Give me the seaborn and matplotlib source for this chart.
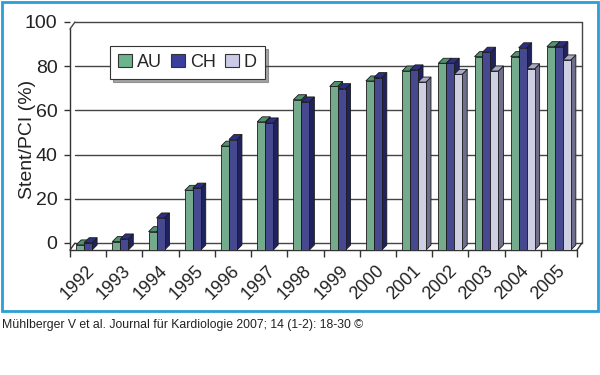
import numpy as np
import pandas as pd
import matplotlib
matplotlib.use("Agg")
import matplotlib.pyplot as plt
import matplotlib.transforms as mtransforms
from matplotlib.patches import Polygon, Rectangle
from matplotlib.lines import Line2D
import seaborn as sns

# ---- data ----
years = [str(y) for y in range(1992, 2006)]
au = [2.3, 3.8, 8.3, 27, 47, 58, 68, 74, 76.5, 81, 84.5, 87.5, 87.5, 92]
ch = [3.3, 5, 14.5, 28, 50, 57.5, 67, 73, 78, 81.5, 84.5, 89.5, 91.5, 92]
de = [np.nan] * 9 + [76, 79.5, 81, 82, 86]
series = ["AU", "CH", "D"]
yticks = [0, 20, 40, 60, 80, 100]
ylabel = "Stent/PCI (%)"
credit = "Mühlberger V et al. Journal für Kardiologie 2007; 14 (1-2): 18-30 ©"

front = {"AU": "#6cb48c", "CH": "#3a3e9c", "D": "#cbcbe8"}
topc = {"AU": "#4f9170", "CH": "#2c2f84", "D": "#a9a9c8"}
sidec = {"AU": "#3b6f55", "CH": "#20225e", "D": "#6f6f8c"}

df = pd.DataFrame({"year": years, "AU": au, "CH": ch, "D": de})
long = df.melt(id_vars="year", var_name="country", value_name="pct")

sns.set_theme(style="white")
plt.rcParams["font.family"] = ["Liberation Sans", "DejaVu Sans"]

fig = plt.figure(figsize=(6, 3.75), dpi=100)
W, H = 600, 375
ax = fig.add_axes([70 / W, 1 - 250 / H, 507 / W, 221 / H])
ax.set_facecolor("none")

sns.barplot(data=long, x="year", y="pct", hue="country", hue_order=series,
            palette=front, width=0.66, edgecolor="#1a1a1a", linewidth=0.6,
            ax=ax, zorder=3, legend=False)

ax.set_xlim(-0.5, len(years) - 0.5)
ax.set_ylim(0, 100)
ax.set_xlabel("")
ax.set_ylabel(ylabel, fontsize=14, color="#222222")
ax.yaxis.set_label_coords(-0.067, 0.5)
ax.set_yticks(yticks)
ax.set_yticklabels([str(v) for v in yticks])
for s in ["top", "right", "bottom"]:
    ax.spines[s].set_visible(False)
ax.spines["left"].set_color("#333333")
ax.spines["left"].set_linewidth(1.0)

ax.tick_params(axis="y", length=4, width=1, color="#333333", pad=5,
               labelsize=14, labelcolor="#222222", left=True)
ax.tick_params(axis="x", which="major", length=0, pad=9, labelsize=13,
               labelcolor="#222222")
ax.set_xticks(np.arange(-0.5, len(years), 1.0), minor=True)
ax.tick_params(axis="x", which="minor", length=5, width=1, color="#333333",
               bottom=True)
for lab in ax.get_xticklabels():
    lab.set_rotation(45)
    lab.set_ha("right")
    lab.set_va("top")
    lab.set_rotation_mode("anchor")

fig.canvas.draw()
dx, dy = 5, 7
wall_off = mtransforms.ScaledTranslation(dx / 100, dy / 100, fig.dpi_scale_trans)
for t in ax.yaxis.get_major_ticks():
    t.label1.set_transform(t.label1.get_transform() + mtransforms.ScaledTranslation(0, dy / 100, fig.dpi_scale_trans))
    t.tick1line.set_transform(t.tick1line.get_transform() + mtransforms.ScaledTranslation(0, dy / 100, fig.dpi_scale_trans))
for lab in ax.get_xticklabels():
    lab.set_transform(lab.get_transform() + mtransforms.ScaledTranslation(-0.02, 0, fig.dpi_scale_trans))

# back wall gridlines & frame
x0, x1 = -0.5, len(years) - 0.5
for v in yticks:
    ax.add_line(Line2D([x0, x1], [v, v], color="#444444", lw=1.0, zorder=1,
                       transform=ax.transData + wall_off, clip_on=False))
ax.add_line(Line2D([x1, x1], [0, 100], color="#444444", lw=1.0, zorder=1,
                   transform=ax.transData + wall_off, clip_on=False))
# floor
ax.add_line(Line2D([x0, x1], [0, 0], color="#333333", lw=1.0, zorder=2,
                   clip_on=False))
T = ax.transData
for xx in (x0, x1):
    p0 = T.transform((xx, 0))
    ax.add_line(Line2D([p0[0], p0[0] + dx], [p0[1], p0[1] + dy],
                       color="#333333", lw=1.0, zorder=2,
                       transform=mtransforms.IdentityTransform(), clip_on=False))
p0 = T.transform((x0, 100))
ax.add_line(Line2D([p0[0], p0[0] + dx], [p0[1], p0[1] + dy],
                   color="#444444", lw=1.0, zorder=1,
                   transform=mtransforms.IdentityTransform(), clip_on=False))

# 3D extrusions of bars
d = 5
faces = []
for name, cont in zip(series, ax.containers):
    for bar in cont:
        h = bar.get_height()
        if not np.isfinite(h) or h <= 0:
            continue
        bx, bw = bar.get_x(), bar.get_width()
        (qx0, qy0) = T.transform((bx, 0))
        (qx1, qy1) = T.transform((bx + bw, h))
        faces.append((qx0, name, qx0, qy0, qx1, qy1))
faces.sort(key=lambda f: f[0])
for i, (_, name, qx0, qy0, qx1, qy1) in enumerate(faces):
    z = 2.5 + i * 0.001
    side = [(qx1, qy0), (qx1, qy1), (qx1 + d, qy1 + d), (qx1 + d, qy0 + d)]
    top = [(qx0, qy1), (qx1, qy1), (qx1 + d, qy1 + d), (qx0 + d, qy1 + d)]
    for pts, col in ((side, sidec[name]), (top, topc[name])):
        ax.add_patch(Polygon(pts, closed=True, facecolor=col,
                             edgecolor="#1a1a1a", lw=0.6, zorder=z,
                             transform=mtransforms.IdentityTransform(),
                             clip_on=False))

# legend
handles = [Rectangle((0, 0), 1, 1, facecolor=front[s], edgecolor="#333333",
                     lw=0.8) for s in series]
leg = ax.legend(handles, series, loc="upper left",
                bbox_to_anchor=(0.079, 0.923), borderaxespad=0, ncol=3,
                fontsize=13, frameon=True, fancybox=False, shadow=True,
                handlelength=0.75, handleheight=0.75, handletextpad=0.3,
                columnspacing=0.5, borderpad=0.45)
leg.get_frame().set_edgecolor("#333333")
leg.get_frame().set_linewidth(0.8)
leg.set_zorder(10)

# outer frame and credit
fig.patches.append(Rectangle((1.5 / W, 1 - 311 / H), 596 / W, 309.5 / H,
                             transform=fig.transFigure, fill=False,
                             edgecolor="#2a9fd6", lw=2, zorder=0))
fig.text(2 / W, 1 - 325 / H, credit, fontsize=8.8, color="#222222",
         ha="left", va="center")

fig.savefig("out.png", dpi=100, facecolor="white")
